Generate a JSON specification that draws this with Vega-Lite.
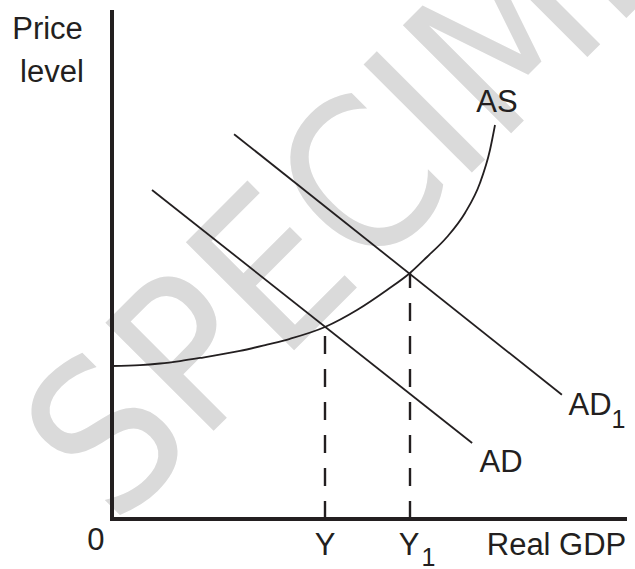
{
  "$schema": "https://vega.github.io/schema/vega-lite/v6.json",
  "width": 513,
  "height": 507,
  "autosize": {"type": "none"},
  "padding": {"left": 112, "top": 12, "right": 10, "bottom": 50},
  "background": "white",
  "config": {"view": {"stroke": null}},
  "datasets": {
    "watermark": [{"text": "SPECIMEN", "x": 58.5, "y": 74.1}],
    "axes": [
      {"name": "price", "x": 0, "y": 0, "x2": 0, "y2": 100},
      {"name": "gdp", "x": 0, "y": 0, "x2": 100, "y2": 0}
    ],
    "curves": [
      {"series": "AS", "i": 0, "x": 0, "y": 30.18},
      {"series": "AS", "i": 1, "x": 5.46, "y": 30.34},
      {"series": "AS", "i": 2, "x": 9.36, "y": 30.67},
      {"series": "AS", "i": 3, "x": 13.26, "y": 31.16},
      {"series": "AS", "i": 4, "x": 17.15, "y": 31.76},
      {"series": "AS", "i": 5, "x": 24.95, "y": 33.14},
      {"series": "AS", "i": 6, "x": 30.21, "y": 34.40},
      {"series": "AS", "i": 7, "x": 34.70, "y": 35.55},
      {"series": "AS", "i": 8, "x": 41.52, "y": 37.87},
      {"series": "AS", "i": 9, "x": 47.76, "y": 41.22},
      {"series": "AS", "i": 10, "x": 53.61, "y": 45.17},
      {"series": "AS", "i": 11, "x": 58.09, "y": 48.52},
      {"series": "AS", "i": 12, "x": 61.40, "y": 51.68},
      {"series": "AS", "i": 13, "x": 65.30, "y": 55.62},
      {"series": "AS", "i": 14, "x": 68.81, "y": 60.36},
      {"series": "AS", "i": 15, "x": 71.73, "y": 66.27},
      {"series": "AS", "i": 16, "x": 73.68, "y": 72.78},
      {"series": "AS", "i": 17, "x": 74.66, "y": 77.71},
      {"series": "AD", "i": 0, "x": 7.8, "y": 64.9},
      {"series": "AD", "i": 1, "x": 70.2, "y": 15.0},
      {"series": "AD1", "i": 0, "x": 23.8, "y": 75.9},
      {"series": "AD1", "i": 1, "x": 87.7, "y": 24.5}
    ],
    "guides": [
      {"label": "Y", "x": 41.52, "bottom": 0, "top": 37.87},
      {"label": "Y1", "x": 58.09, "bottom": 0, "top": 48.52}
    ],
    "labels": [
      {"text": "Price", "x": -12.57, "y": 94.58},
      {"text": "level", "x": -11.70, "y": 86.19},
      {"text": "AS", "x": 75.05, "y": 80.28},
      {"text": "AD", "x": 75.83, "y": 9.27},
      {"text": "AD", "x": 93.18, "y": 20.51},
      {"text": "0", "x": -3.12, "y": -6.11},
      {"text": "Y", "x": 41.52, "y": -7.10},
      {"text": "Y", "x": 57.89, "y": -7.10},
      {"text": "Real GDP", "x": 86.65, "y": -7.10}
    ],
    "subscripts": [
      {"text": "1", "x": 98.73, "y": 17.95},
      {"text": "1", "x": 61.70, "y": -9.3}
    ]
  },
  "encoding": {
    "x": {"type": "quantitative", "scale": {"domain": [0, 100], "nice": false, "zero": false}, "axis": null},
    "y": {"type": "quantitative", "scale": {"domain": [0, 100], "nice": false, "zero": false}, "axis": null}
  },
  "layer": [
    {
      "data": {"name": "watermark"},
      "mark": {"type": "text", "font": "DejaVu Sans Condensed", "fontSize": 210, "angle": -45, "align": "center", "baseline": "middle", "color": "#dadada"},
      "encoding": {"x": {"field": "x"}, "y": {"field": "y"}, "text": {"field": "text"}}
    },
    {
      "data": {"name": "guides"},
      "mark": {"type": "rule", "color": "#231f20", "strokeWidth": 2.4, "strokeDash": [18, 15]},
      "encoding": {"x": {"field": "x"}, "y": {"field": "bottom"}, "y2": {"field": "top"}, "detail": {"field": "label"}}
    },
    {
      "data": {"name": "curves"},
      "mark": {"type": "line", "color": "#231f20", "strokeWidth": 1.8, "interpolate": "monotone"},
      "encoding": {"x": {"field": "x"}, "y": {"field": "y"}, "detail": {"field": "series"}, "order": {"field": "i"}}
    },
    {
      "data": {"name": "axes"},
      "mark": {"type": "rule", "color": "#231f20", "strokeWidth": 4, "strokeCap": "square"},
      "encoding": {"x": {"field": "x"}, "y": {"field": "y"}, "x2": {"field": "x2"}, "y2": {"field": "y2"}, "detail": {"field": "name"}}
    },
    {
      "data": {"name": "labels"},
      "mark": {"type": "text", "font": "Liberation Sans", "fontSize": 31, "align": "center", "baseline": "alphabetic", "color": "#231f20"},
      "encoding": {"x": {"field": "x"}, "y": {"field": "y"}, "text": {"field": "text"}}
    },
    {
      "data": {"name": "subscripts"},
      "mark": {"type": "text", "font": "Liberation Sans", "fontSize": 25, "align": "center", "baseline": "alphabetic", "color": "#231f20"},
      "encoding": {"x": {"field": "x"}, "y": {"field": "y"}, "text": {"field": "text"}}
    }
  ]
}
